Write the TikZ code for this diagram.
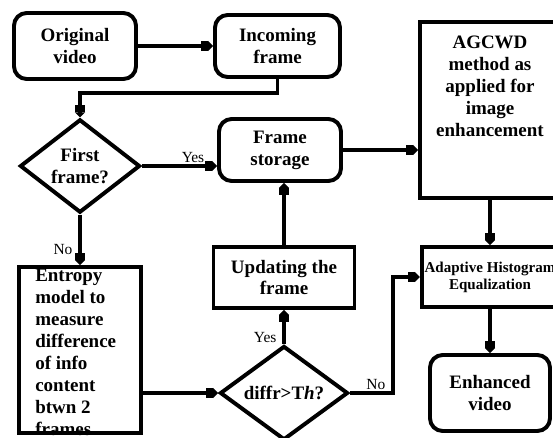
\documentclass[tikz,border=0pt]{standalone}
\usepackage{fontspec}
\setmainfont{Liberation Serif}
\usetikzlibrary{arrows.meta,shapes.geometric}
\newcommand\flowfont{\fontsize{13.5}{15.6}\selectfont\bfseries}
\newcommand\smallflowfont{\fontsize{10.7}{12.2}\selectfont\bfseries}
\tikzset{
	flowline/.style={line width=2.8pt, -{Square[length=5pt,width=7pt]Triangle[length=3.5pt,width=7pt]}},
	roundbox/.style={draw, line width=2.8pt, rounded corners=9pt, align=center, inner sep=2pt, font=\flowfont},
	squarebox/.style={draw, line width=2.8pt, align=center, inner sep=2pt, font=\flowfont},
	decision/.style={draw, diamond, line width=2.8pt, align=center, inner sep=0pt, font=\flowfont},
	boxtext/.style={inner sep=0pt, font=\flowfont},
	branchlabel/.style={inner sep=1pt, font=\fontsize{11}{13}\selectfont}
}

\begin{document}
\begin{tikzpicture}[x=0.025cm, y=-0.025cm]
		%%%%% START %%%%%
		\useasboundingbox (0,0) rectangle (553,437);
		\clip (0,0) rectangle (553,437);
		
		\node[roundbox, minimum width=3.05cm, minimum height=1.65cm] (orig) at (75,46) {Original\\video};
		\node[roundbox, minimum width=3.125cm, minimum height=1.55cm] (incoming) at (277.5,46) {Incoming\\frame};
		
		\node[decision, minimum width=3.0cm, minimum height=1.7cm] (first) at (80,166) {First\\frame?};
		\node[roundbox, minimum width=3.05cm, minimum height=1.55cm] (storage) at (280,150) {Frame\\storage};
		
		\node[squarebox, minimum width=3.5cm, minimum height=4.4cm] (agcwd) at (490,110) {};
		\node[boxtext, anchor=north, align=center] (agcwdtext) at (490,36) {AGCWD\\method as\\applied for\\image\\enhancement};
		
		\node[squarebox, minimum width=3.4cm, minimum height=1.5cm, font=\smallflowfont] (ahe) at (490,277) {Adaptive Histogram\\Equalization};
		\node[roundbox, minimum width=3.0cm, minimum height=1.9cm] (enhanced) at (490,393) {Enhanced\\video};
		
		\node[squarebox, minimum width=3.05cm, minimum height=4.15cm] (entropy) at (80,350) {};
		\node[boxtext, anchor=north west, align=left] (entropytext) at (35,269) {Entropy\\model to\\measure\\difference\\of info\\content\\btwn 2\\frames};
		
		\node[squarebox, minimum width=3.525cm, minimum height=1.525cm] (update) at (284,277.5) {Updating the\\frame};
		\node[decision, minimum width=3.2cm, minimum height=2.15cm] (diffr) at (284,393) {diffr>T\textit{h}?};
		
		% connectors
		\coordinate (bendtop) at (80,93);
		\coordinate (bendno) at (393,393);
		
		\draw[flowline] (orig) -- (incoming);
		\draw[flowline] (incoming.south) |- (bendtop) -- (first.north);
		\draw[flowline] (first.east) -- (first.east -| storage.west) node[branchlabel, above, pos=0.68] (yesfirst) {Yes};
		\draw[flowline] (first.south) -- (entropy.north) node[branchlabel, left, pos=0.7, xshift=-3pt] (nofirst) {No};
		\draw[flowline] (entropy.east |- diffr.west) -- (diffr.west);
		\draw[flowline] (diffr.north) -- (update.south) node[branchlabel, left, pos=0.2, xshift=-3pt] (yesdiffr) {Yes};
		\draw[flowline] (update.north) -- (update.north |- storage.south);
		\draw[flowline] (storage.east) -- (storage.east -| agcwd.west);
		\draw[flowline] (agcwd.south) -- (ahe.north);
		\draw[flowline] (diffr.east) -- (bendno) node[branchlabel, above, pos=0.6] (nodiffr) {No} |- (ahe.west);
		\draw[flowline] (ahe.south) -- (enhanced.north);
		
		%%%%% END %%%%%
	\end{tikzpicture}
\end{document}
